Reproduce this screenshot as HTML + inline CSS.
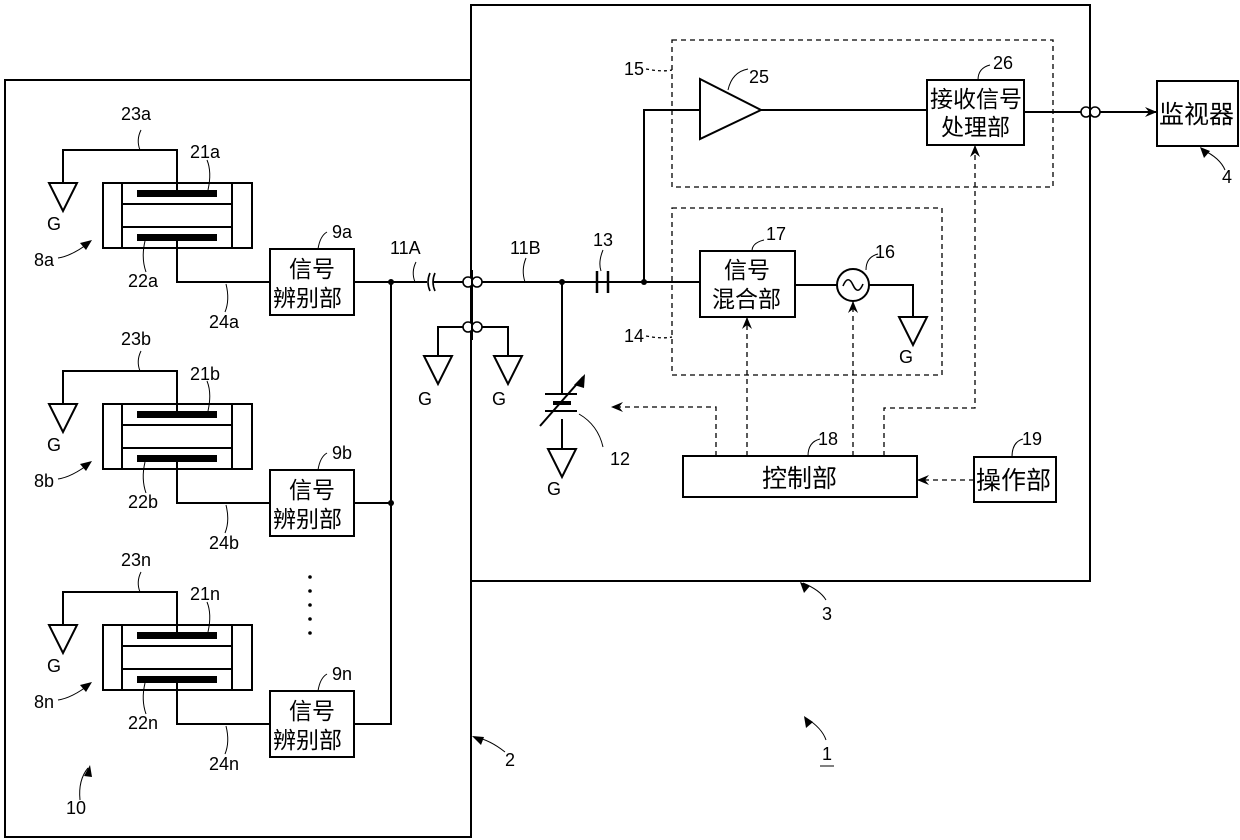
<!DOCTYPE html>
<html><head><meta charset="utf-8"><style>
html,body{margin:0;padding:0;background:#fff;}
svg{display:block;}
text{font-family:"Liberation Sans",Arial,sans-serif;font-size:18px;fill:#000;}
.cj{font-family:"Liberation Sans","Noto Sans CJK SC",sans-serif;font-size:23px;}
.cb{font-family:"Liberation Sans","Noto Sans CJK SC",sans-serif;font-size:25px;}
</style></head><body>
<svg width="1240" height="840" viewBox="0 0 1240 840" xmlns="http://www.w3.org/2000/svg">
<defs>
<g id="gnd"><polygon points="-14,0 14,0 0,28" fill="none" stroke="#000" stroke-width="2"/></g>
<marker id="ar" markerWidth="12" markerHeight="10" refX="11" refY="5" orient="auto" markerUnits="userSpaceOnUse"><path d="M0,0 L12,5 L0,10 L4,5 Z" fill="#000"/></marker>
<g id="dev">
  <rect x="103" y="183" width="149" height="65" fill="none" stroke="#000" stroke-width="2"/>
  <line x1="122" y1="183" x2="122" y2="248" stroke="#000" stroke-width="2"/>
  <line x1="232" y1="183" x2="232" y2="248" stroke="#000" stroke-width="2"/>
  <line x1="122" y1="204" x2="232" y2="204" stroke="#000" stroke-width="2"/>
  <line x1="122" y1="227" x2="232" y2="227" stroke="#000" stroke-width="2"/>
  <rect x="137" y="190" width="80" height="7" fill="#000"/>
  <rect x="137" y="234" width="80" height="7" fill="#000"/>
  <polyline points="177,193 177,150 63,150 63,183" fill="none" stroke="#000" stroke-width="2"/>
  <polyline points="177,237 177,282 270,282" fill="none" stroke="#000" stroke-width="2"/>
  <use href="#gnd" x="63" y="183"/>
  <rect x="270" y="249" width="84" height="66" fill="none" stroke="#000" stroke-width="2"/>
  <text x="47" y="230">G</text>
  <g fill="none" stroke="#000" stroke-width="1">
   <path d="M141,130 Q136,140 140,150"/><path d="M207,160 Q212,172 208,190"/>
   <path d="M146,272 Q141,258 145,241"/><path d="M225,312 Q230,300 226,284"/>
   <path d="M327,232 Q320,236 318,249"/>
  </g>
  <path d="M58,258 Q72,256 90,242" fill="none" stroke="#000" stroke-width="1"/>
  <polygon points="92,240 80,243 86,250" fill="#000"/>
</g>
</defs>
<g fill="none" stroke="#000" stroke-width="2">
<rect x="5" y="80" width="466" height="757"/>
<rect x="471" y="5" width="619" height="576"/>
</g>
<use href="#dev"/>
<use href="#dev" y="221"/>
<use href="#dev" y="442"/>
<g fill="none" stroke="#000" stroke-width="2">
<polyline points="354,724 391,724 391,282"/>
<line x1="354" y1="503" x2="391" y2="503"/>
<line x1="354" y1="282" x2="427" y2="282"/>
<line x1="433" y1="282" x2="700" y2="282"/>
<path d="M430,273 Q426,282 430,291 M435,273 Q431,282 435,291" stroke-width="1.6"/>
<polyline points="438,356 438,327 508,327 508,356"/>
<line x1="562" y1="282" x2="562" y2="394"/>
<line x1="545" y1="394" x2="577" y2="394"/>
<line x1="545" y1="411" x2="577" y2="411"/>
<line x1="562" y1="419" x2="562" y2="449"/>
<line x1="540" y1="426" x2="583" y2="377"/>
<line x1="597" y1="271" x2="597" y2="293" stroke-width="2.5"/>
<line x1="608" y1="271" x2="608" y2="293" stroke-width="2.5"/>
<polyline points="644,282 644,110 700,110"/>
<polygon points="700,79 700,139 761,110"/>
<line x1="761" y1="110" x2="927" y2="110"/>
<rect x="927" y="80" width="97" height="65"/>
<line x1="1024" y1="112" x2="1156" y2="112" marker-end="url(#ar)"/>
<rect x="1157" y="81" width="81" height="65"/>
<rect x="700" y="251" width="95" height="66"/>
<line x1="795" y1="285" x2="837" y2="285"/>
<circle cx="853" cy="285" r="16"/>
<path d="M843,286 Q848,274 853,285 Q858,296 863,284" stroke-width="1.6"/>
<polyline points="869,285 913,285 913,317"/>
<rect x="683" y="456" width="234" height="41"/>
<rect x="974" y="457" width="82" height="45"/>
</g>
<use href="#gnd" x="438" y="356"/><use href="#gnd" x="508" y="356"/>
<use href="#gnd" x="562" y="449"/><use href="#gnd" x="913" y="317"/>
<polygon points="585,374 574,385 584,388" fill="#000"/>
<line x1="553" y1="403" x2="571" y2="403" stroke="#000" stroke-width="4"/>
<g fill="#fff" stroke="#000" stroke-width="1.6">
<circle cx="468" cy="282" r="5"/><circle cx="477" cy="282" r="5"/>
<circle cx="468" cy="327" r="5"/><circle cx="477" cy="327" r="5"/>
<circle cx="1086" cy="112" r="5"/><circle cx="1095" cy="112" r="5"/>
</g>
<line x1="472" y1="270" x2="472" y2="340" stroke="#000" stroke-width="2"/>
<line x1="1090" y1="100" x2="1090" y2="124" stroke="#000" stroke-width="2"/>
<g fill="#000"><circle cx="391" cy="282" r="3"/><circle cx="391" cy="503" r="3"/><circle cx="562" cy="282" r="3"/><circle cx="644" cy="282" r="3"/>
<circle cx="310" cy="577" r="1.8"/><circle cx="310" cy="591" r="1.8"/><circle cx="310" cy="605" r="1.8"/><circle cx="310" cy="619" r="1.8"/><circle cx="310" cy="633" r="1.8"/></g>
<g fill="none" stroke="#000" stroke-width="1.3" stroke-dasharray="5,4">
<rect x="672" y="40" width="381" height="147"/>
<rect x="672" y="208" width="270" height="167"/>
<polyline points="716,456 716,407 612,407" marker-end="url(#ar)"/>
<line x1="747" y1="456" x2="747" y2="318" marker-end="url(#ar)"/>
<line x1="853" y1="456" x2="853" y2="302" marker-end="url(#ar)"/>
<polyline points="884,456 884,408 975,408 975,146" marker-end="url(#ar)"/>
<line x1="974" y1="480" x2="918" y2="480" marker-end="url(#ar)"/>
<path d="M646,69 Q662,72 672,70 M646,336 Q662,339 672,337" stroke-dasharray="3,3"/>
</g>
<g fill="none" stroke="#000" stroke-width="1">
<path d="M416,262 Q411,272 415,282"/><path d="M526,258 Q521,270 525,282"/>
<path d="M603,250 Q598,262 601,271"/><path d="M603,447 Q598,425 579,414"/>
<path d="M748,69 Q732,72 728,90"/><path d="M990,65 Q978,68 978,80"/>
<path d="M764,240 Q752,243 752,251"/><path d="M878,254 Q866,257 866,270"/>
<path d="M820,439 Q808,442 808,456"/><path d="M1023,439 Q1012,442 1012,457"/>
<path d="M1225,170 Q1220,158 1203,150"/>
<path d="M80,800 Q78,780 88,768"/><path d="M505,752 Q490,740 475,737"/><path d="M826,600 Q820,590 803,583"/><path d="M826,740 Q822,728 806,718"/>
</g>
<polygon points="1200,147 1204,158 1210,151" fill="#000"/>
<polygon points="90,765 84,776 92,777" fill="#000"/>
<polygon points="472,736 481,745 484,737" fill="#000"/>
<polygon points="800,582 804,593 810,586" fill="#000"/>
<polygon points="804,716 806,728 813,722" fill="#000"/>
<text x="121" y="120">23a</text><text x="190" y="158">21a</text><text x="128" y="287">22a</text><text x="209" y="328">24a</text><text x="332" y="238">9a</text><text x="34" y="266">8a</text>
<text x="121" y="345">23b</text><text x="190" y="380">21b</text><text x="128" y="508">22b</text><text x="209" y="549">24b</text><text x="332" y="459">9b</text><text x="34" y="487">8b</text>
<text x="121" y="566">23n</text><text x="190" y="600">21n</text><text x="128" y="729">22n</text><text x="209" y="770">24n</text><text x="332" y="680">9n</text><text x="34" y="708">8n</text>
<text x="390" y="254">11A</text><text x="510" y="254">11B</text><text x="593" y="246">13</text><text x="610" y="465">12</text>
<text x="418" y="405">G</text><text x="492" y="405">G</text><text x="547" y="495">G</text><text x="899" y="363">G</text>
<text x="624" y="75">15</text><text x="624" y="342">14</text><text x="749" y="83">25</text><text x="993" y="69">26</text>
<text x="766" y="240">17</text><text x="875" y="258">16</text><text x="818" y="445">18</text><text x="1022" y="445">19</text>
<text x="1222" y="183">4</text><text x="66" y="814">10</text><text x="505" y="766">2</text><text x="822" y="620">3</text>
<text x="822" y="760">1</text><line x1="820" y1="766" x2="834" y2="766" stroke="#000"/>
<text class="cj" x="289" y="277">信号</text><text class="cj" x="273" y="306">辨别部</text>
<text class="cj" x="289" y="498">信号</text><text class="cj" x="273" y="527">辨别部</text>
<text class="cj" x="289" y="719">信号</text><text class="cj" x="273" y="748">辨别部</text>
<text class="cj" x="724" y="278">信号</text><text class="cj" x="712" y="307">混合部</text>
<text class="cj" x="930" y="107">接收信号</text><text class="cj" x="941" y="135">处理部</text>
<text class="cb" x="1159" y="123">监视器</text>
<text class="cb" x="762" y="487">控制部</text><text class="cb" x="976" y="489">操作部</text>
</svg>
</body></html>
